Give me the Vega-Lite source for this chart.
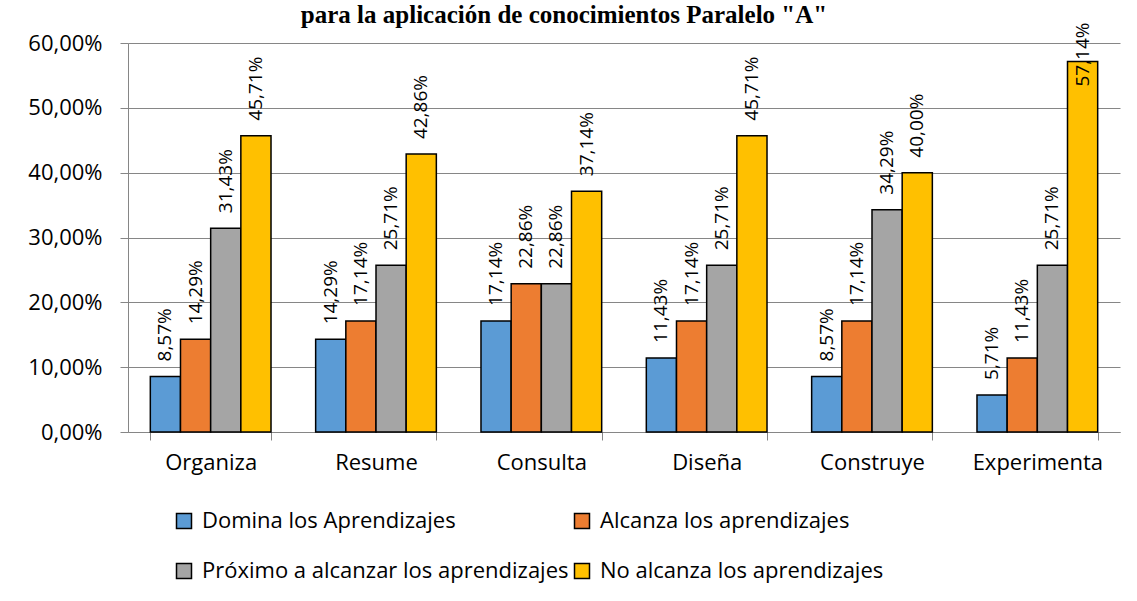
{
  "$schema": "https://vega.github.io/schema/vega-lite/v6.json",
  "width": 992,
  "height": 389,
  "autosize": {"type": "none"},
  "padding": {"left": 128, "top": 43, "right": 17, "bottom": 169},
  "background": "white",
  "title": {
    "text": "para la aplicación de conocimientos Paralelo \"A\"",
    "font": "Liberation Serif",
    "fontSize": 25,
    "fontWeight": "bold",
    "color": "#000000",
    "anchor": "middle",
    "frame": "group",
    "baseline": "alphabetic",
    "offset": 0,
    "dy": 26,
    "dx": -60
  },
  "data": {
    "values": [
      {"categoria": "Organiza", "nivel": "Domina los Aprendizajes", "valor": 0.0857},
      {"categoria": "Organiza", "nivel": "Alcanza los aprendizajes", "valor": 0.1429},
      {"categoria": "Organiza", "nivel": "Próximo a alcanzar los aprendizajes", "valor": 0.3143},
      {"categoria": "Organiza", "nivel": "No alcanza los aprendizajes", "valor": 0.4571},
      {"categoria": "Resume", "nivel": "Domina los Aprendizajes", "valor": 0.1429},
      {"categoria": "Resume", "nivel": "Alcanza los aprendizajes", "valor": 0.1714},
      {"categoria": "Resume", "nivel": "Próximo a alcanzar los aprendizajes", "valor": 0.2571},
      {"categoria": "Resume", "nivel": "No alcanza los aprendizajes", "valor": 0.4286},
      {"categoria": "Consulta", "nivel": "Domina los Aprendizajes", "valor": 0.1714},
      {"categoria": "Consulta", "nivel": "Alcanza los aprendizajes", "valor": 0.2286},
      {"categoria": "Consulta", "nivel": "Próximo a alcanzar los aprendizajes", "valor": 0.2286},
      {"categoria": "Consulta", "nivel": "No alcanza los aprendizajes", "valor": 0.3714},
      {"categoria": "Diseña", "nivel": "Domina los Aprendizajes", "valor": 0.1143},
      {"categoria": "Diseña", "nivel": "Alcanza los aprendizajes", "valor": 0.1714},
      {"categoria": "Diseña", "nivel": "Próximo a alcanzar los aprendizajes", "valor": 0.2571},
      {"categoria": "Diseña", "nivel": "No alcanza los aprendizajes", "valor": 0.4571},
      {"categoria": "Construye", "nivel": "Domina los Aprendizajes", "valor": 0.0857},
      {"categoria": "Construye", "nivel": "Alcanza los aprendizajes", "valor": 0.1714},
      {"categoria": "Construye", "nivel": "Próximo a alcanzar los aprendizajes", "valor": 0.3429},
      {"categoria": "Construye", "nivel": "No alcanza los aprendizajes", "valor": 0.4},
      {"categoria": "Experimenta", "nivel": "Domina los Aprendizajes", "valor": 0.0571},
      {"categoria": "Experimenta", "nivel": "Alcanza los aprendizajes", "valor": 0.1143},
      {"categoria": "Experimenta", "nivel": "Próximo a alcanzar los aprendizajes", "valor": 0.2571},
      {"categoria": "Experimenta", "nivel": "No alcanza los aprendizajes", "valor": 0.5714}
    ]
  },
  "encoding": {
    "x": {
      "field": "categoria",
      "type": "nominal",
      "sort": ["Organiza", "Resume", "Consulta", "Diseña", "Construye", "Experimenta"],
      "scale": {"paddingInner": 0.27, "paddingOuter": 0.135},
      "title": null,
      "axis": {
        "labelAngle": 0,
        "labelFont": "Open Sans",
        "labelFontSize": 22,
        "labelColor": "#000000",
        "labelPadding": 12,
        "tickSize": 8,
        "tickBand": "extent",
        "tickColor": "#868686",
        "domainColor": "#868686",
        "grid": false
      }
    },
    "xOffset": {
      "field": "nivel",
      "type": "nominal",
      "sort": ["Domina los Aprendizajes", "Alcanza los aprendizajes", "Próximo a alcanzar los aprendizajes", "No alcanza los aprendizajes"],
      "scale": {"paddingInner": 0, "paddingOuter": 0}
    },
    "y": {
      "field": "valor",
      "type": "quantitative",
      "scale": {"domain": [0, 0.6], "nice": false},
      "title": null,
      "axis": {
        "values": [0, 0.1, 0.2, 0.3, 0.4, 0.5, 0.6],
        "format": ".2%",
        "labelFont": "Open Sans",
        "labelFontSize": 22,
        "labelColor": "#000000",
        "labelPadding": 18,
        "tickSize": 8,
        "tickColor": "#868686",
        "domainColor": "#868686",
        "gridColor": "#868686",
        "grid": true
      }
    }
  },
  "layer": [
    {
      "mark": {"type": "bar", "stroke": "#000000", "strokeWidth": 1.5},
      "encoding": {
        "color": {
          "field": "nivel",
          "type": "nominal",
          "sort": ["Domina los Aprendizajes", "Alcanza los aprendizajes", "Próximo a alcanzar los aprendizajes", "No alcanza los aprendizajes"],
          "scale": {
            "domain": ["Domina los Aprendizajes", "Alcanza los aprendizajes", "Próximo a alcanzar los aprendizajes", "No alcanza los aprendizajes"],
            "range": ["#5B9BD5", "#ED7D31", "#A5A5A5", "#FFC000"]
          },
          "legend": {
            "orient": "none",
            "legendX": 45,
            "legendY": 467,
            "columns": 2,
            "direction": "horizontal",
            "title": null,
            "padding": 0,
            "symbolType": "square",
            "symbolSize": 225,
            "symbolStrokeColor": "#000000",
            "symbolStrokeWidth": 1.5,
            "symbolOpacity": 1,
            "labelFont": "Open Sans",
            "labelFontSize": 22,
            "labelColor": "#000000",
            "labelOffset": 7,
            "labelLimit": 500,
            "rowPadding": 28,
            "columnPadding": 2
          }
        }
      }
    },
    {
      "transform": [{"filter": "datum.valor < 0.5"}],
      "mark": {"type": "text", "angle": 270, "align": "left", "baseline": "middle", "dx": 15, "font": "Open Sans", "fontSize": 19, "color": "#000000"},
      "encoding": {"text": {"field": "valor", "type": "quantitative", "format": ".2%"}}
    },
    {
      "transform": [{"filter": "datum.valor >= 0.5"}],
      "mark": {"type": "text", "angle": 270, "align": "left", "baseline": "middle", "dx": -25, "font": "Open Sans", "fontSize": 19, "color": "#000000"},
      "encoding": {"text": {"field": "valor", "type": "quantitative", "format": ".2%"}}
    }
  ],
  "config": {
    "locale": {
      "number": {"decimal": ",", "thousands": ".", "grouping": [3], "currency": ["", " €"]}
    },
    "view": {"stroke": null}
  }
}
